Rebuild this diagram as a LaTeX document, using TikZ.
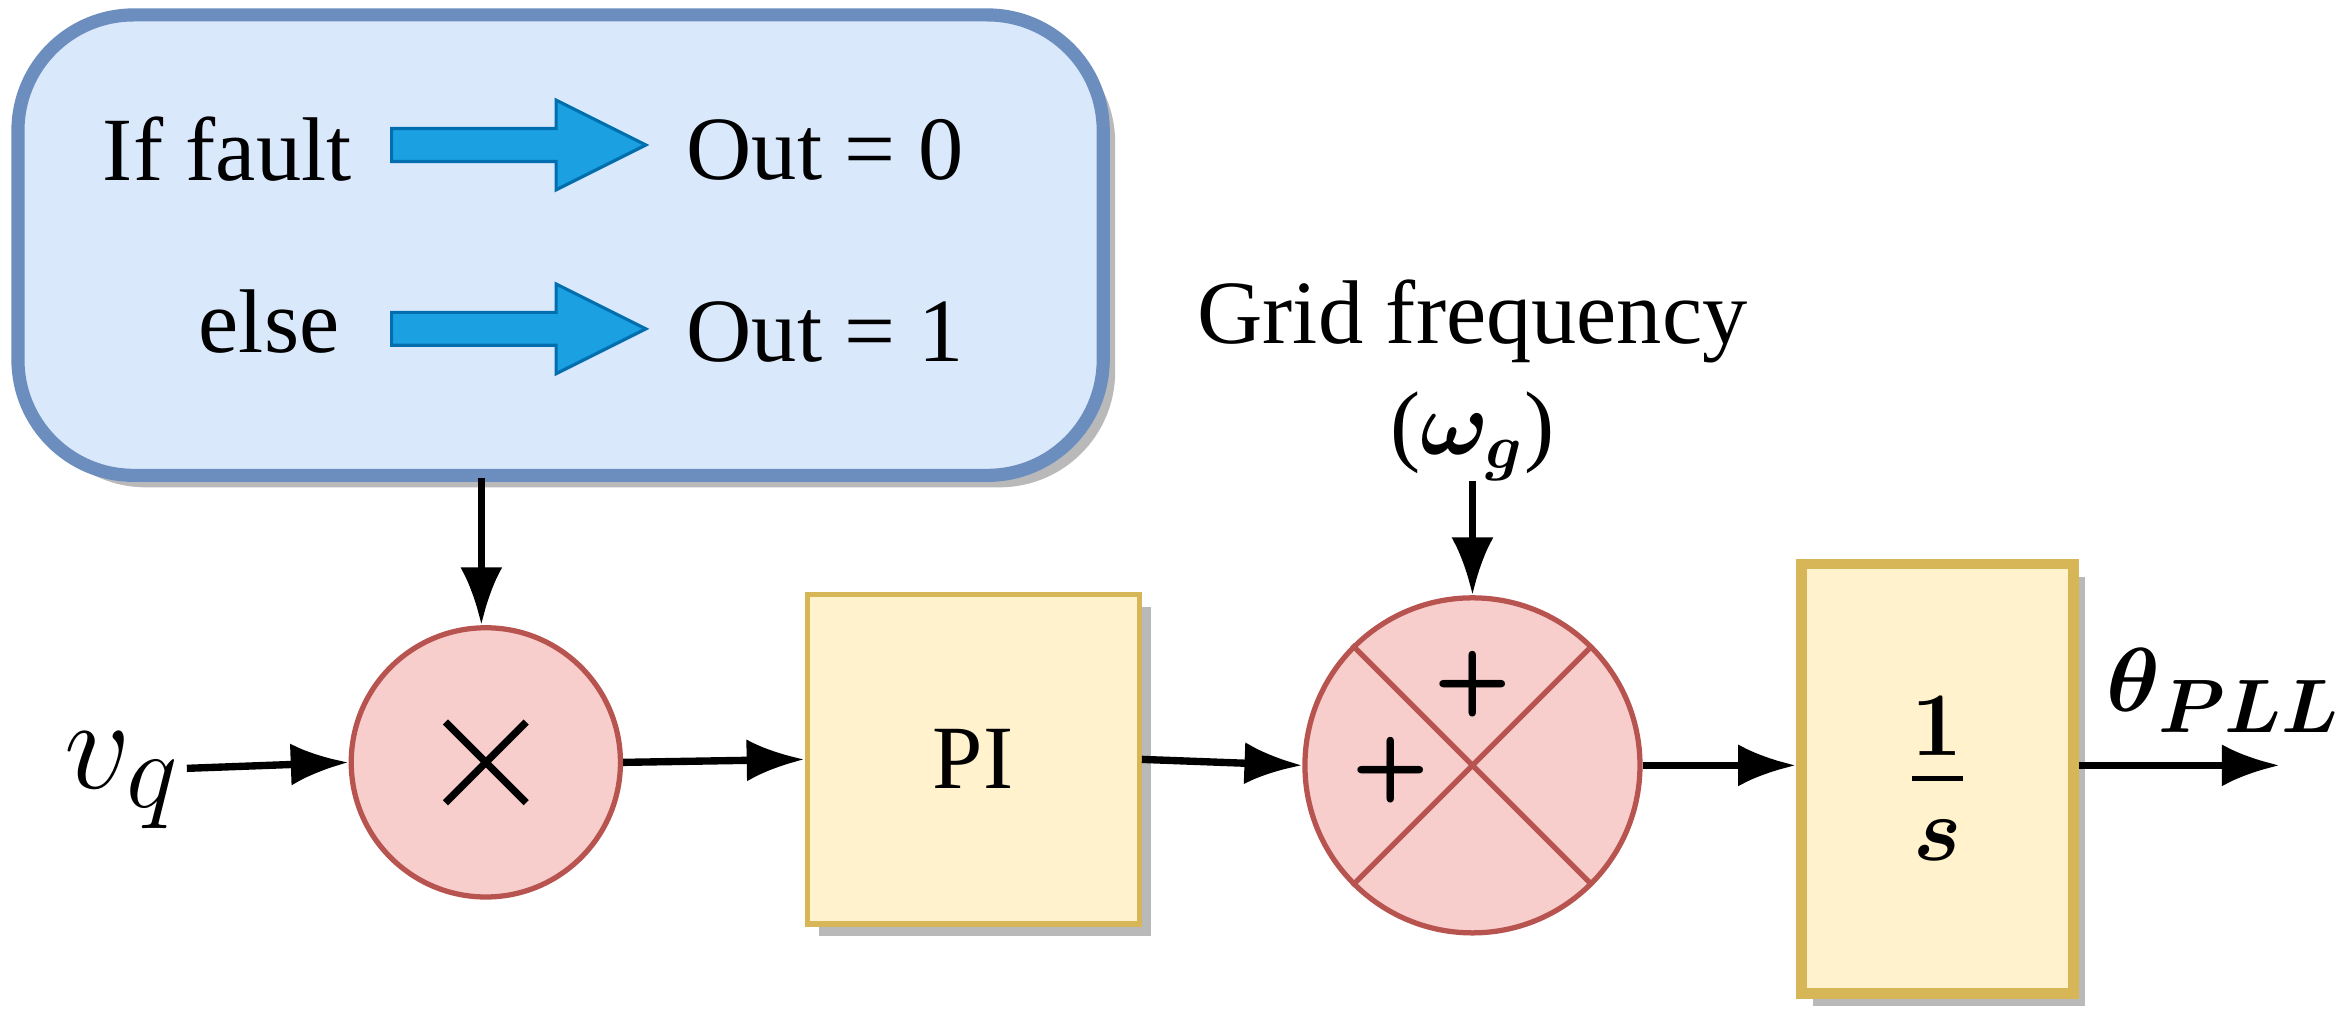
\documentclass[tikz,border=0pt]{standalone}
\usepackage{amsmath,bm}
\usepackage{fontspec}
\setmainfont{Liberation Serif}
\usetikzlibrary{arrows.meta}
\definecolor{bfill}{HTML}{DAE8FC}\definecolor{bline}{HTML}{6C8EBF}
\definecolor{rfill}{HTML}{F8CECC}\definecolor{rline}{HTML}{B85450}
\definecolor{yfill}{HTML}{FFF2CC}\definecolor{yline}{HTML}{D6B656}
\definecolor{afill}{HTML}{1BA1E2}\definecolor{aline}{HTML}{006EAF}
\begin{document}
\begin{tikzpicture}[x=0.01cm,y=-0.01cm,
  txt/.style={font=\fontsize{17.2}{20}\selectfont,inner sep=0},
  con/.style={line width=1.4pt,-{Latex[length=11pt,width=8pt]}},
  blk/.style={fill=afill,draw=aline,line width=0.6pt}]
\useasboundingbox (0,0) rectangle (1568,692);
\fill[gray!55,rounded corners=22pt] (20,18) rectangle (746,326);
\draw[draw=bline,fill=bfill,line width=2.5pt,rounded corners=22pt] (12,10) rectangle (738,318);
\node[txt] (t1) at (152,100) {If fault};
\node[txt] (t2) at (552,100) {Out = 0};
\node[txt] (t3) at (180,215) {else};
\node[txt] (t4) at (552,222) {Out = 1};
\foreach \y in {97,220}{
 \draw[blk] (262,\y-11) -- (372,\y-11) -- (372,\y-30) -- (432,\y) -- (372,\y+30) -- (372,\y+11) -- (262,\y+11) -- cycle;}
\node[circle,draw=rline,fill=rfill,line width=1pt,minimum size=1.8cm] (m) at (325,510) {};
\draw[line width=1.4pt] (298,483) -- (352,537) (298,537) -- (352,483);
\coordinate (bt) at (322,320);
\draw[con] (bt) -- (m.north -| bt);
\node[font=\fontsize{28}{28}\selectfont] (vq) at (82,522) {$v_q$};
\draw[con] (125,514) -- (m.west);
\fill[gray!55] (548,406) rectangle (770,626);
\node[draw=yline,fill=yfill,line width=1pt,minimum width=2.22cm,minimum height=2.2cm,txt] (pi) at (651,508) {PI};
\draw[con] (m.east) -- (pi.west);
\node[circle,draw=rline,fill=rfill,line width=1pt,minimum size=2.24cm] (s) at (985,512) {};
\draw[rline,line width=1pt] (s.north west) -- (s.south east) (s.north east) -- (s.south west);
\node[font=\fontsize{17}{17}\selectfont\sffamily\bfseries] at (985,458) {+};
\node[font=\fontsize{17}{17}\selectfont\sffamily\bfseries] at (930,515) {+};
\draw[con] (pi.east) -- (s.west);
\node[txt] (gf) at (985,215) {Grid frequency};
\node[txt] (wg) at (985,292) {($\bm{\omega_g}$)};
\draw[con] (985,322) -- (s.north);
\fill[gray!55] (1213,386) rectangle (1395,673);
\node[draw=yline,fill=yfill,line width=2pt,minimum width=1.82cm,minimum height=2.87cm,font=\fontsize{27}{27}\selectfont] (int) at (1296,521) {$\bm{\frac{1}{s}}$};
\draw[con] (s.east) -- (int.west |- s.east);
\coordinate (out) at (1525,512);
\draw[con] (int.east |- out) -- (out);
\node[font=\fontsize{19}{19}\selectfont] at (1488,462) {$\bm{\theta_{PLL}}$};
\end{tikzpicture}
\end{document}
